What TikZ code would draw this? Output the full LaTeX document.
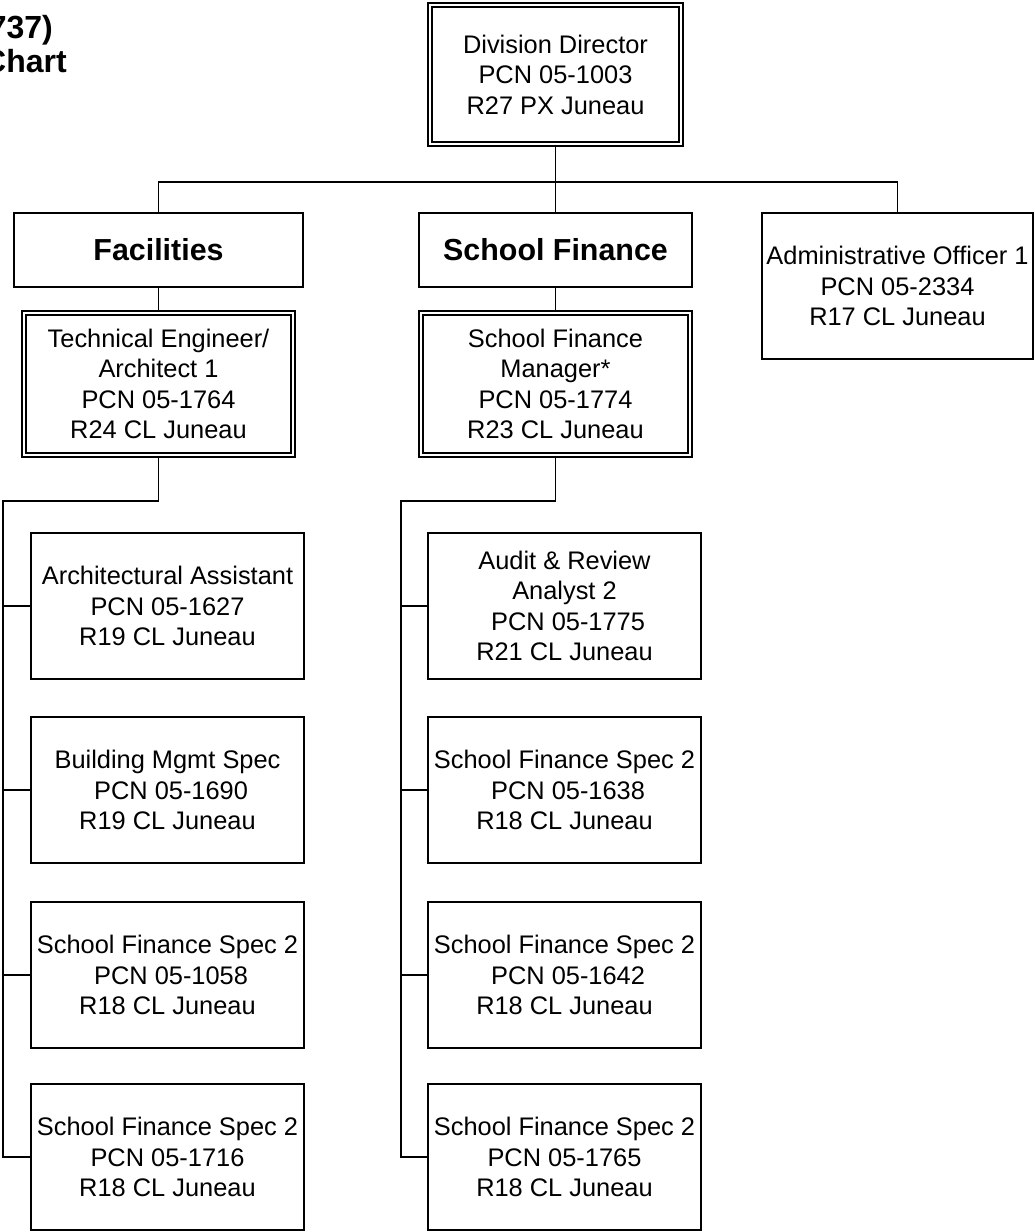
\documentclass[tikz,border=0pt]{standalone}
\usepackage{fontspec}
\setmainfont{Liberation Sans}

\begin{document}
\begin{tikzpicture}[x=1pt, y=-1pt,
    box/.style={draw, line width=1.8pt, align=center, inner sep=0pt,
      minimum width=273, minimum height=146, font=\fontsize{25.4}{30.5}\selectfont},
    dbox/.style={box, double, line width=1.4pt, double distance=2.6pt},
    head/.style={draw, line width=1.8pt, inner sep=0pt, minimum height=74,
      font=\fontsize{30.4}{34}\bfseries\selectfont},
    link/.style={line width=1.8pt},
    title/.style={inner sep=0pt, font=\fontsize{32}{34}\bfseries\selectfont}]

  \useasboundingbox (0,0) rectangle (1034,1232);

  % title, cut by the page edge
  \node[title, anchor=base east] (ttlcode) at (53,38) {737)};
  \node[title, anchor=base east] (ttlchart) at (67,72) {Chart};

  % top level
  \node[dbox, minimum width=251, minimum height=139] (dir) at (555.5,74.5)
    {Division Director\\PCN 05-1003\\R27 PX Juneau};
  \coordinate (top) at (555.5,182);

  \node[head, minimum width=289] (fac) at (158.5,250) {Facilities};
  \node[head, minimum width=273] (sf) at (555.5,250) {School Finance};
  \node[box, minimum width=271] (admin) at (897.5,286)
    {Administrative Officer 1\\PCN 05-2334\\R17 CL Juneau};

  \node[dbox, minimum width=269, minimum height=142] (tech) at (158.5,384)
    {Technical Engineer/\\Architect 1\\PCN 05-1764\\R24 CL Juneau};
  \node[dbox, minimum width=269, minimum height=142] (mgr) at (555.5,384)
    {School Finance\\Manager*\\PCN 05-1774\\R23 CL Juneau};

  % facilities staff
  \node[box] (lc1) at (167.5,606) {Architectural Assistant\\PCN 05-1627\\R19 CL Juneau};
  \node[box] (lc2) at (167.5,790) {Building Mgmt Spec\\\hspace*{.28em}PCN 05-1690\\R19 CL Juneau};
  \node[box] (lc3) at (167.5,975) {School Finance Spec 2\\\hspace*{.28em}PCN 05-1058\\R18 CL Juneau};
  \node[box] (lc4) at (167.5,1157) {School Finance Spec 2\\PCN 05-1716\\R18 CL Juneau};

  % school finance staff
  \node[box] (rc1) at (564.5,606) {Audit \& Review\\Analyst 2\\\hspace*{.28em}PCN 05-1775\\R21 CL Juneau};
  \node[box] (rc2) at (564.5,790) {School Finance Spec 2\\\hspace*{.28em}PCN 05-1638\\R18 CL Juneau};
  \node[box] (rc3) at (564.5,975) {School Finance Spec 2\\\hspace*{.28em}PCN 05-1642\\R18 CL Juneau};
  \node[box] (rc4) at (564.5,1157) {School Finance Spec 2\\PCN 05-1765\\R18 CL Juneau};

  % connectors
  \draw[link] (dir) -- (top);
  \draw[link] (fac.north) |- (top) -| (admin.north);
  \draw[link] (top) -- (sf);
  \draw[link] (fac) -- (tech);
  \draw[link] (sf) -- (mgr);

  \coordinate (techbus) at (3,501);
  \draw[link] (tech.south) |- (techbus) -- (techbus |- lc4.west) -- (lc4.west);
  \draw[link] (techbus |- lc1.west) -- (lc1.west);
  \draw[link] (techbus |- lc2.west) -- (lc2.west);
  \draw[link] (techbus |- lc3.west) -- (lc3.west);

  \coordinate (mgrbus) at (401,501);
  \draw[link] (mgr.south) |- (mgrbus) -- (mgrbus |- rc4.west) -- (rc4.west);
  \draw[link] (mgrbus |- rc1.west) -- (rc1.west);
  \draw[link] (mgrbus |- rc2.west) -- (rc2.west);
  \draw[link] (mgrbus |- rc3.west) -- (rc3.west);
\end{tikzpicture}
\end{document}
